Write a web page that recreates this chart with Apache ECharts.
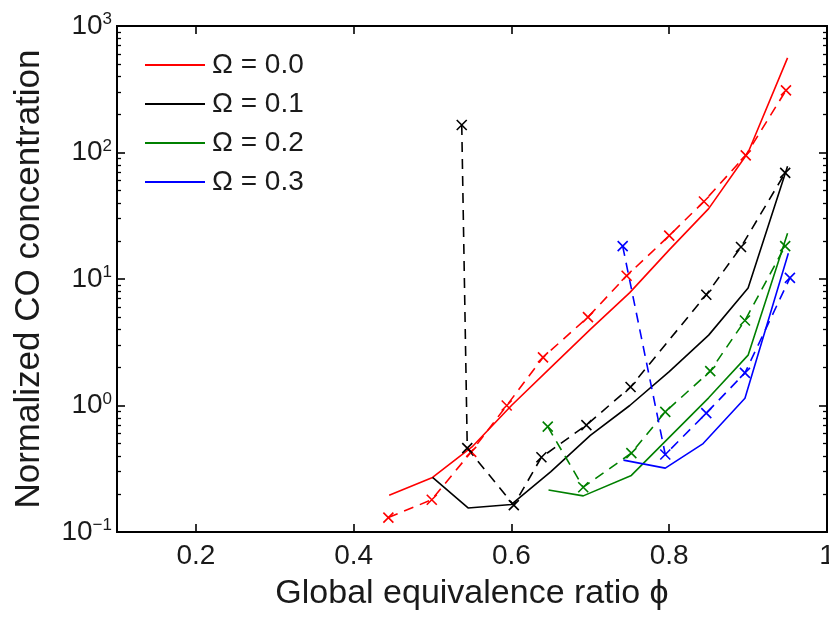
<!DOCTYPE html>
<html>
<head>
<meta charset="utf-8">
<script src="https://cdn.jsdelivr.net/npm/echarts@6/dist/echarts.min.js"></script>
<style>
html,body{margin:0;padding:0;background:#fff;}
#coChart{width:829px;height:619px;}
</style>
</head>
<body>
<div id="coChart"></div>
<script>
// ======================================
// Normalized CO concentration vs phi
// solid = model, dashed + x = measured
// ======================================

const seriesNames = ["Ω = 0.0","Ω = 0.1","Ω = 0.2","Ω = 0.3"];

const seriesColors = ["#ff0000","#000000","#008000","#0000ff"];

const xTickValues = [0.2,0.4,0.6,0.8,1.0];

// minor ticks of the log axis: 2..9 in every decade
const minorMultipliers = [2,3,4,5,6,7,8,9];
const decadeExponents = [-1,0,1,2];

// model curves (solid)
const phiModel0 = [0.445,0.5,0.55,0.6,0.65,0.7,0.75,0.8,0.85,0.9,0.95];
const coModel0 = [0.195,0.27,0.47,1.0,2.0,4.0,7.8,17,36,100,560];

const phiModel1 = [0.5,0.545,0.6,0.65,0.7,0.75,0.8,0.85,0.9,0.95];
const coModel1 = [0.27,0.155,0.165,0.30,0.58,1.0,1.85,3.6,8.5,78];

const phiModel2 = [0.647,0.691,0.752,0.8,0.85,0.9,0.95];
const coModel2 = [0.215,0.193,0.28,0.56,1.15,2.5,23];

const phiModel3 = [0.742,0.795,0.843,0.896,0.951];
const coModel3 = [0.37,0.32,0.50,1.14,16];

// measured points (dashed, x markers)
const phiMeas0 = [0.444,0.499,0.549,0.594,0.640,0.697,0.746,0.800,0.844,0.897,0.948];
const coMeas0 = [0.13,0.18,0.43,1.0,2.4,5.0,10.6,22,41,95,310];

const phiMeas1 = [0.537,0.544,0.603,0.638,0.695,0.751,0.847,0.891,0.947];
const coMeas1 = [165,0.46,0.163,0.39,0.70,1.40,7.5,17.9,69];

const phiMeas2 = [0.646,0.691,0.752,0.795,0.852,0.896,0.947];
const coMeas2 = [0.68,0.226,0.42,0.89,1.87,4.7,18.2];

const phiMeas3 = [0.741,0.795,0.847,0.896,0.953];
const coMeas3 = [18.2,0.41,0.87,1.81,10.2];

const modelSets = [
[phiModel0,coModel0],
[phiModel1,coModel1],
[phiModel2,coModel2],
[phiModel3,coModel3]
];

const measSets = [
[phiMeas0,coMeas0],
[phiMeas1,coMeas1],
[phiMeas2,coMeas2],
[phiMeas3,coMeas3]
];

const FONT = "'Liberation Sans', Arial, Helvetica, sans-serif";

const TEXT = "#1a1a1a";

const crossSymbol = "path://M0,0L10,10M10,0L0,10";

function pairs(xs,ys){
return xs.map((x,i)=>[x,ys[i]]);
}

// minor tick positions in log10 space (for the helper value axes)
const minorTickPos = [];
decadeExponents.forEach(d=>{
minorMultipliers.forEach(m=>{
minorTickPos.push(Math.log10(m)+d);
});
});

const chartDom = document.getElementById("coChart");

const chart = echarts.init(chartDom);

const series = [];

modelSets.forEach((set,i)=>{

series.push({
name:seriesNames[i],
type:"line",
data:pairs(set[0],set[1]),
symbol:"none",
lineStyle:{
color:seriesColors[i],
width:1.6
},
itemStyle:{
color:seriesColors[i]
},
z:3
});

});

measSets.forEach((set,i)=>{

series.push({
name:seriesNames[i]+" exp",
type:"line",
data:pairs(set[0],set[1]),
symbol:crossSymbol,
symbolSize:10,
lineStyle:{
color:seriesColors[i],
width:1.6,
type:[10,7]
},
itemStyle:{
color:"rgba(0,0,0,0)",
borderColor:seriesColors[i],
borderWidth:1.6
},
z:4
});

});

function expLabel(v){

const e = Math.round(Math.log10(v));

const sup = e<0 ? "−"+(-e) : String(e);

return "{b|10}{s|"+sup+"}";

}

const axisLineStyle = {
color:"#000",
width:2
};

const majorTick = {
show:true,
inside:true,
length:8,
lineStyle:{color:"#000",width:1.6}
};

function minorAxis(pos){
return {
type:"value",
min:-1,
max:3,
position:pos,
axisLine:{
show:true,
onZero:false,
lineStyle:{color:"#000",width:2}
},
axisTick:{
show:true,
inside:true,
length:4,
customValues:minorTickPos,
lineStyle:{color:"#000",width:1.3}
},
axisLabel:{show:false},
splitLine:{show:false}
};
}

const option = {

backgroundColor:"#fff",

animation:false,

textStyle:{
fontFamily:FONT
},

grid:{
left:117,
right:2,
top:26,
bottom:87,
outerBoundsMode:"none",
containLabel:false
},

legend:{
data:seriesNames,
orient:"vertical",
left:140,
top:45,
icon:"rect",
itemWidth:60,
itemHeight:2,
itemGap:9,
textStyle:{
fontFamily:FONT,
fontSize:28,
lineHeight:30,
color:TEXT,
padding:[0,0,0,2]
}
},

xAxis:[

{
type:"value",
min:0.1,
max:1.0,
position:"bottom",
name:"Global equivalence ratio ϕ",
nameLocation:"middle",
nameGap:45,
nameTextStyle:{
fontFamily:FONT,
fontSize:34,
color:TEXT
},
axisLine:{
onZero:false,
lineStyle:axisLineStyle
},
axisTick:Object.assign({customValues:xTickValues},majorTick),
axisLabel:{
customValues:xTickValues,
margin:10,
fontFamily:FONT,
fontSize:28,
color:TEXT
},
splitLine:{show:false}
},

{
type:"value",
min:0.1,
max:1.0,
position:"top",
axisLine:{
onZero:false,
lineStyle:axisLineStyle
},
axisTick:Object.assign({customValues:xTickValues},majorTick),
axisLabel:{show:false},
splitLine:{show:false}
}

],

yAxis:[

{
type:"log",
logBase:10,
min:0.1,
max:1000,
position:"left",
name:"Normalized CO concentration",
nameLocation:"middle",
nameGap:70,
nameTextStyle:{
fontFamily:FONT,
fontSize:35,
color:TEXT
},
axisLine:{
onZero:false,
lineStyle:axisLineStyle
},
axisTick:majorTick,
axisLabel:{
margin:5,
formatter:expLabel,
rich:{
b:{
fontFamily:FONT,
fontSize:28,
lineHeight:30,
padding:[4,0,4,0],
color:TEXT
},
s:{
fontFamily:FONT,
fontSize:17,
lineHeight:17,
padding:[4,0,17,0],
color:TEXT
}
}
},
splitLine:{show:false}
},

{
type:"log",
logBase:10,
min:0.1,
max:1000,
position:"right",
axisLine:{
onZero:false,
lineStyle:axisLineStyle
},
axisTick:majorTick,
axisLabel:{show:false},
splitLine:{show:false}
},

minorAxis("left"),

minorAxis("right")

],

series:series

};

chart.setOption(option);

window.addEventListener(
"resize",
()=>chart.resize()
);
</script>
</body>
</html>
